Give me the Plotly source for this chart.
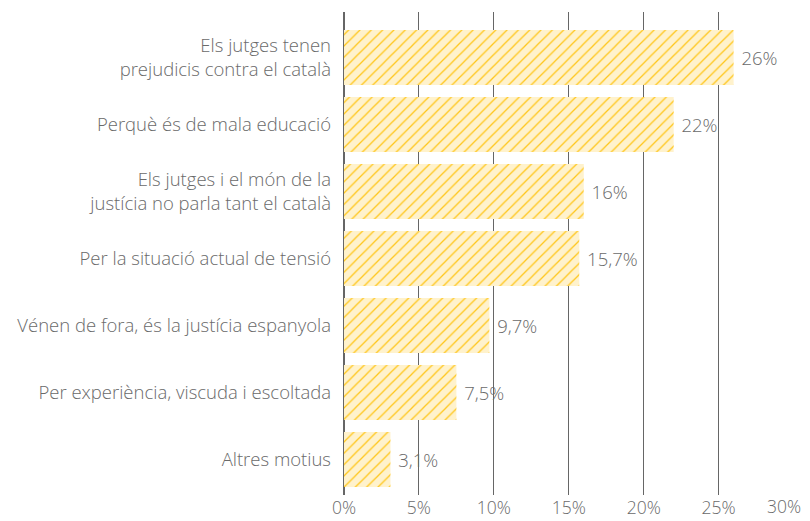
import plotly.graph_objects as go

categories = [
    "Els jutges tenen<br>prejudicis contra el català",
    "Perquè és de mala educació",
    "Els jutges i el món de la<br>justícia no parla tant el català",
    "Per la situació actual de tensió",
    "Vénen de fora, és la justícia espanyola",
    "Per experiència, viscuda i escoltada",
    "Altres motius",
]
values = [26, 22, 16, 15.7, 9.7, 7.5, 3.1]
labels = ["26%", "22%", "16%", "15,7%", "9,7%", "7,5%", "3,1%"]
tick_vals = [0, 5, 10, 15, 20, 25, 30]
tick_text = ["0%", "5%", "10%", "15%", "20%", "25%", "30%"]

FONT = "Open Sans"
GRAY = "#6a6a6a"
FS = 18.5
TFS = 17.5

fig = go.Figure(go.Bar(
    x=values,
    y=categories,
    orientation="h",
    text=[" " + l for l in labels],
    textposition="outside",
    cliponaxis=False,
    textfont=dict(family=FONT, size=FS, color=GRAY, weight=300),
    marker=dict(
        color="#fff2cc",
        line=dict(width=0),
        pattern=dict(shape="/", fgcolor="#ffc61a", bgcolor="#fff2cc", size=8, solidity=0.16, fillmode="replace"),
    ),
    hoverinfo="skip",
))

# last tick label kept inside the page edge
fig.add_annotation(
    x=tick_vals[-1], xref="x", y=0, yref="paper",
    text=tick_text[-1], showarrow=False,
    xanchor="right", yanchor="top", xshift=8, yshift=2,
    borderpad=0,
    font=dict(family=FONT, size=TFS, color=GRAY, weight=300),
)

fig.update_layout(
    width=802, height=513,
    margin=dict(l=336, r=16, t=4, b=26, autoexpand=False),
    paper_bgcolor="white", plot_bgcolor="white",
    bargap=0.18,
    showlegend=False,
    font=dict(family=FONT, size=FS, color=GRAY, weight=300),
)
fig.update_xaxes(
    range=[0, 30.03], tickvals=tick_vals, ticktext=tick_text[:-1] + [""],
    showgrid=True, gridcolor="#666666", gridwidth=1,
    zeroline=True, zerolinecolor="#666666", zerolinewidth=2,
    tickfont=dict(family=FONT, size=TFS, color=GRAY, weight=300),
    ticks="", fixedrange=True, automargin=False,
)
fig.update_yaxes(
    categoryorder="array", categoryarray=categories[::-1],
    range=[-0.53, 6.68],
    showgrid=False, ticks="", ticklabelstandoff=12, automargin=False,
    tickfont=dict(family=FONT, size=FS, color=GRAY, weight=300),
)
fig.write_html("out.html")
